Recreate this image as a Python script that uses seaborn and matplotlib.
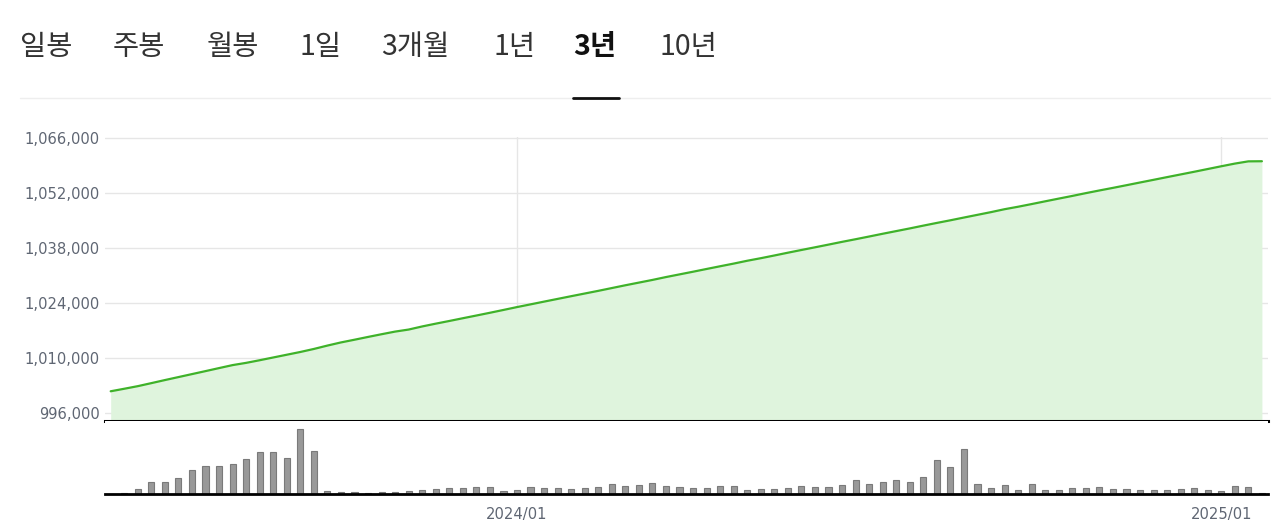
import pandas as pd
import matplotlib.pyplot as plt
from matplotlib.lines import Line2D
import seaborn as sns

sns.set_style('white')
plt.rcParams['font.family'] = ['Noto Sans CJK KR', 'DejaVu Sans']

# 탭 메뉴
tabs = ['일봉', '주봉', '월봉', '1일', '3개월', '1년', '3년', '10년']
tab_x = [20, 113, 207, 300, 381, 493, 573, 659]
active_tab = '3년'

# 주간 데이터 (2023/06 ~ 2025/01)
weeks = pd.date_range('2023-06-09', periods=86, freq='W-FRI')
price = [1001530, 1002170, 1002830, 1003600, 1004380, 1005140, 1005900, 1006660,
         1007430, 1008190, 1008760, 1009430, 1010130, 1010830, 1011530, 1012300,
         1013160, 1013960, 1014650, 1015360, 1016050, 1016720, 1017240, 1018030,
         1018740, 1019420, 1020120, 1020810, 1021510, 1022230, 1022960, 1023650,
         1024350, 1025040, 1025730, 1026410, 1027090, 1027800, 1028510, 1029190,
         1029870, 1030600, 1031280, 1031960, 1032660, 1033350, 1034030, 1034750,
         1035400, 1036090, 1036800, 1037490, 1038170, 1038860, 1039560, 1040230,
         1040920, 1041620, 1042300, 1042980, 1043690, 1044380, 1045050, 1045750,
         1046440, 1047130, 1047870, 1048500, 1049180, 1049880, 1050570, 1051250,
         1051960, 1052640, 1053300, 1053980, 1054670, 1055350, 1056040, 1056720,
         1057400, 1058100, 1058800, 1059480, 1060050, 1060080]
volume = [0, 10, 47, 117, 117, 157, 237, 273, 273, 293, 347, 410, 410, 353, 640,
          423, 27, 20, 20, 10, 20, 20, 30, 40, 50, 60, 60, 70, 70, 30,
          40, 70, 60, 60, 50, 60, 70, 97, 80, 90, 110, 80, 70, 60, 60,
          80, 80, 40, 50, 50, 60, 80, 70, 70, 90, 140, 100, 120, 140, 120,
          170, 340, 270, 440, 100, 60, 90, 40, 100, 40, 40, 60, 60, 70,
          50, 50, 40, 40, 40, 50, 60, 40, 30, 80, 70, 10]
price_ticks = [996000, 1010000, 1024000, 1038000, 1052000, 1066000]

df = pd.DataFrame({'idx': range(len(weeks)), 'date': weeks,
                   'price': price, 'volume': volume})

# 1월 첫 주 위치
jan = df[(df['date'].dt.month == 1) & (df['date'].shift().dt.month == 12)]
tick_idx = list(jan['idx'])
tick_lbl = [d.strftime('%Y/%m') for d in jan['date']]

W, H = 1280, 529
fig = plt.figure(figsize=(W / 100, H / 100), dpi=100)


def box(l, t, r, b):
    return [l / W, 1 - b / H, (r - l) / W, (b - t) / H]


# 탭
for t, x in zip(tabs, tab_x):
    on = t == active_tab
    fig.text(x / W, 1 - 47 / H, t, fontsize=20.5, va='center', ha='left',
             color='#111111' if on else '#333333',
             fontweight='bold' if on else 'normal')
fig.add_artist(Line2D([20 / W, 1270 / W], [1 - 98 / H] * 2, color='#eeeeee', lw=1))
fig.add_artist(Line2D([573 / W, 619 / W], [1 - 98 / H] * 2, color='#111111', lw=2))

lbl_color = '#5f6673'
tick_font = 'DejaVu Sans'
xmin, xmax = -0.42, len(df) - 1 + 0.45

# 가격 차트
ax = fig.add_axes(box(105, 137, 1268, 421))
ylo, yhi = 993964, 1066250
ax.set_ylim(ylo, yhi)
ax.fill_between(df['idx'], df['price'], ylo, color='#dff4dd', lw=0)
sns.lineplot(data=df, x='idx', y='price', ax=ax, color='#3fb22a', linewidth=1.6)
ax.set_xlim(xmin, xmax)
ax.set_yticks(price_ticks)
ax.set_yticklabels([f'{v:,}' for v in price_ticks], fontfamily=tick_font)
ax.set_xticks(tick_idx)
ax.set_xticklabels([])
ax.grid(True, color='#e6e6e6', lw=1)
ax.tick_params(axis='both', length=0, labelsize=10.6, labelcolor=lbl_color, pad=4)
ax.set_xlabel('')
ax.set_ylabel('')
for s in ['top', 'left', 'right']:
    ax.spines[s].set_visible(False)
ax.spines['bottom'].set_color('black')
ax.spines['bottom'].set_linewidth(2.2)

# 거래량
axv = fig.add_axes(box(105, 421, 1268, 494))
sns.barplot(data=df, x='idx', y='volume', ax=axv, color='#999999', width=0.45,
            edgecolor='#7a7a7a', linewidth=0.8, saturation=1)
axv.set_xlim(xmin, xmax)
axv.set_ylim(0, max(volume) * 72 / 64)
axv.set_yticks([])
axv.set_xticks(tick_idx)
axv.set_xticklabels(tick_lbl, fontfamily=tick_font)
axv.tick_params(axis='x', length=5, width=1.6, color='black', labelsize=10.6,
                labelcolor=lbl_color, pad=4)
axv.set_xlabel('')
axv.set_ylabel('')
for s in ['top', 'left', 'right']:
    axv.spines[s].set_visible(False)
axv.spines['bottom'].set_color('black')
axv.spines['bottom'].set_linewidth(2)

fig.savefig('out.png', dpi=100)
